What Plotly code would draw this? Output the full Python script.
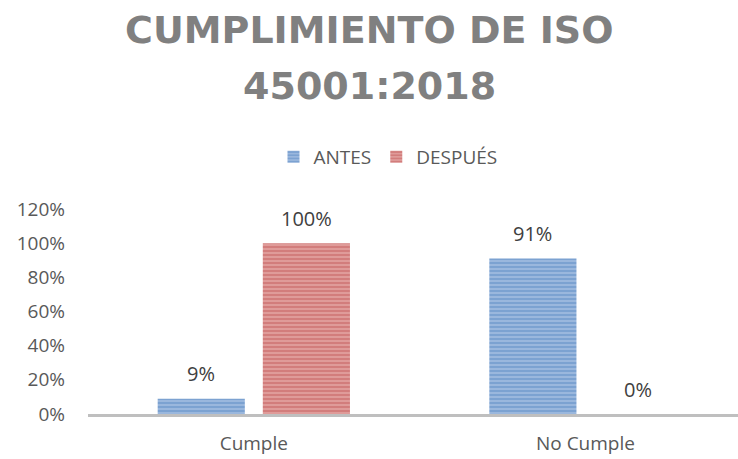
import plotly.graph_objects as go

categories = ["Cumple", "No Cumple"]
antes = [0.09, 0.91]
despues = [1.00, 0.00]
tick_vals = [0, 0.2, 0.4, 0.6, 0.8, 1.0, 1.2]
tick_text = ["0%", "20%", "40%", "60%", "80%", "100%", "120%"]
title_lines = ["CUMPLIMIENTO DE ISO", "45001:2018"]

FONT = "Open Sans"
GREY = "#595959"
LABEL = "#404040"

W, H = 738, 459
MARGIN = dict(l=88, r=0, t=209, b=45)
PLOT_W = W - MARGIN["l"] - MARGIN["r"]
PLOT_H = H - MARGIN["t"] - MARGIN["b"]


def paper_x(px):
    return (px - MARGIN["l"]) / PLOT_W


def paper_y(px):
    return 1 + (MARGIN["t"] - px) / PLOT_H


# half the width of a bar slot inside a group, in pixels (for label placement)
HALF_SLOT = 52.5

series = [
    ("ANTES", antes, "#4F81BD", "#A9C3E4", -HALF_SLOT),
    ("DESPUÉS", despues, "#C0504D", "#E5ABAA", HALF_SLOT),
]

fig = go.Figure()
for name, vals, fg, bg, dx in series:
    fig.add_trace(go.Bar(
        name=name, x=categories, y=vals,
        marker=dict(color=fg, line=dict(width=0),
                    pattern=dict(shape="-", fgcolor=fg, bgcolor=bg,
                                 size=4, solidity=0.68)),
    ))
    # value labels above each bar
    for cat, v in zip(categories, vals):
        fig.add_annotation(
            x=cat, y=v, xref="x", yref="y", text=f"{v:.0%}",
            showarrow=False, xshift=dx, yshift=25, yanchor="middle",
            font=dict(size=20, color=LABEL, family=FONT),
        )

# two-line chart title, centred on the figure
for text, ypx in zip(title_lines, [30, 86]):
    fig.add_annotation(
        x=paper_x(W / 2), xref="paper", xanchor="center",
        y=paper_y(ypx), yref="paper", yanchor="middle",
        text=f"<b>{text}</b>", showarrow=False,
        font=dict(size=38, color="#808080", family="DejaVu Sans"),
    )

fig.update_layout(
    width=W, height=H,
    margin=MARGIN,
    paper_bgcolor="white", plot_bgcolor="white",
    font=dict(family=FONT, color=GREY, size=19),
    legend=dict(orientation="h", x=paper_x(388), xanchor="center",
                y=paper_y(157), yanchor="middle",
                font=dict(size=19, color=GREY), traceorder="normal"),
    bargap=0.366, bargroupgap=0.171,
    showlegend=True,
)
fig.update_xaxes(range=[-0.5, 1.46], showline=True, linecolor="#BFBFBF", linewidth=2.5,
                 ticks="", ticklabelstandoff=10, tickfont=dict(size=19, color=GREY))
fig.update_yaxes(range=[0, 1.2], tickvals=tick_vals, ticktext=tick_text,
                 showgrid=False, zeroline=False, showline=False,
                 ticklabelstandoff=22, tickfont=dict(size=19, color=GREY))

fig.write_html("out.html")
